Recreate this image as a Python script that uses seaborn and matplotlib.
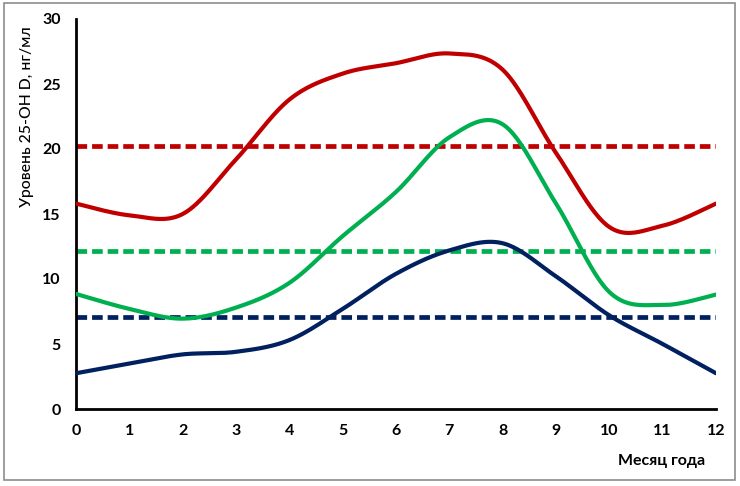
import numpy as np
import pandas as pd
import seaborn as sns
import matplotlib.pyplot as plt
from matplotlib.patches import Rectangle

months = [0, 1, 2, 3, 4, 5, 6, 7, 8, 9, 10, 11, 12]
red_vals = [15.8, 14.9, 15.0, 19.2, 23.8, 25.8, 26.6, 27.35, 26.1, 19.7, 14.0, 14.1, 15.8]
green_vals = [8.85, 7.7, 6.95, 7.8, 9.7, 13.3, 16.7, 20.9, 21.9, 15.8, 9.0, 8.0, 8.8]
navy_vals = [2.75, 3.5, 4.2, 4.4, 5.3, 7.7, 10.4, 12.2, 12.75, 10.2, 7.2, 5.0, 2.75]
thresholds = [20.2, 12.15, 7.1]

series_names = ["red", "green", "navy"]
colors = {"red": "#C00000", "green": "#00B050", "navy": "#002060"}
x_ticks = list(range(0, 13))
y_ticks = [0, 5, 10, 15, 20, 25, 30]
y_label = "Уровень 25-OH D, нг/мл"
x_label = "Месяц года"


def catmull_rom(x, y, n=40):
    x = np.asarray(x, float)
    y = np.asarray(y, float)
    px = np.concatenate([[x[0]], x, [x[-1]]])
    py = np.concatenate([[y[0]], y, [y[-1]]])
    xs, ys = [], []
    t = np.linspace(0, 1, n, endpoint=False)
    for i in range(1, len(px) - 2):
        p0x, p1x, p2x, p3x = px[i - 1:i + 3]
        p0y, p1y, p2y, p3y = py[i - 1:i + 3]
        c1x, c1y = p1x + (p2x - p0x) / 6, p1y + (p2y - p0y) / 6
        c2x, c2y = p2x - (p3x - p1x) / 6, p2y - (p3y - p1y) / 6
        bx = (1 - t) ** 3 * p1x + 3 * (1 - t) ** 2 * t * c1x + 3 * (1 - t) * t ** 2 * c2x + t ** 3 * p2x
        by = (1 - t) ** 3 * p1y + 3 * (1 - t) ** 2 * t * c1y + 3 * (1 - t) * t ** 2 * c2y + t ** 3 * p2y
        xs.append(bx)
        ys.append(by)
    xs.append([x[-1]])
    ys.append([y[-1]])
    return np.concatenate(xs), np.concatenate(ys)


frames = []
for name, vals in zip(series_names, [red_vals, green_vals, navy_vals]):
    sx, sy = catmull_rom(months, vals)
    frames.append(pd.DataFrame({"month": sx, "value": sy, "series": name}))
df = pd.concat(frames, ignore_index=True)

sns.set_style("white")
plt.rcParams["font.family"] = ["Lato", "DejaVu Sans"]
plt.rcParams["text.color"] = "black"
plt.rcParams["axes.labelcolor"] = "black"
plt.rcParams["xtick.color"] = "black"
plt.rcParams["ytick.color"] = "black"

fig = plt.figure(figsize=(7.4, 4.86), dpi=100)
ax = fig.add_axes([76 / 740, 1 - 409 / 486, 640 / 740, 390 / 486])

for name, thr in zip(series_names, thresholds):
    ax.axhline(thr, color=colors[name], lw=3.4, linestyle=(0, (2.25, 1.05)), zorder=2)

sns.lineplot(data=df, x="month", y="value", hue="series", palette=colors,
             sort=False, estimator=None, units="series", legend=False,
             lw=3.0, ax=ax, zorder=3)

ax.set_xlim(0, 12)
ax.set_ylim(0, 30)
ax.set_xticks(x_ticks)
ax.set_yticks(y_ticks)
ax.set_xticklabels([str(v) for v in x_ticks], fontsize=11.5, fontweight="bold")
ax.set_yticklabels([str(v) for v in y_ticks], fontsize=11.5, fontweight="bold")
ax.tick_params(axis="both", direction="out", length=5, width=1.8, color="black", pad=6)
for s in ["top", "right"]:
    ax.spines[s].set_visible(False)
for s in ["left", "bottom"]:
    ax.spines[s].set_color("black")
    ax.spines[s].set_linewidth(2)
ax.set_xlabel("")
ax.set_ylabel(y_label, fontsize=11.3, fontweight="medium")
ax.yaxis.set_label_coords((27 - 76) / 640, (409 - 117) / 390)
ax.yaxis.label.set_va("center")
ax.yaxis.label.set_ha("center")

fig.text(662 / 740, 1 - 461 / 486, x_label, fontsize=11.5, fontweight="bold", ha="center", va="center")
fig.patches.append(Rectangle((4 / 740, 1 - 480 / 486), 731 / 740, 477 / 486,
                             transform=fig.transFigure, fill=False, edgecolor="#8c8c8c", lw=1.2))

fig.savefig("out.png", dpi=100)
